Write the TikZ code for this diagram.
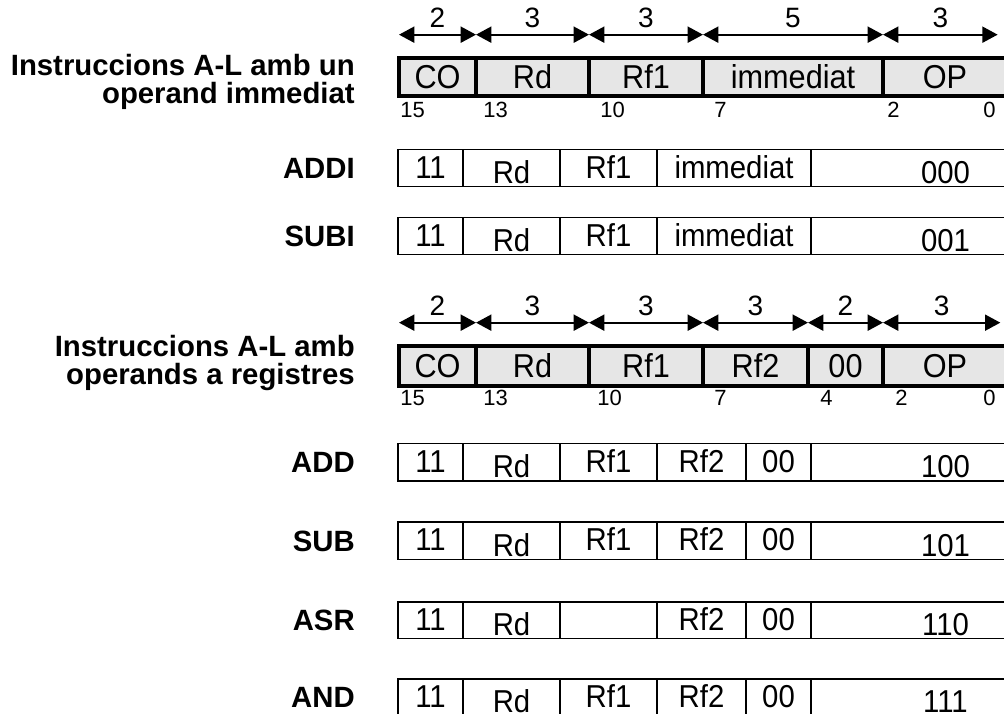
\documentclass[tikz,border=0pt]{standalone}
\usepackage{fontspec}
\usepackage{graphicx}
\setmainfont{Liberation Sans}
\usetikzlibrary{arrows.meta}
\definecolor{hdrfill}{RGB}{230,230,230}
% one field of an instruction word: name, style, x-left, x-right, y-top, y-bottom, text
\newcommand{\fld}[7]{\node[#2, minimum width={(#4-#3)*0.75pt}, minimum height={(#6-#5)*0.75pt}] (#1) at (#3,#5) {\scalebox{1}[1.08]{#7}};}
% field text set a little lower than the rest
\newcommand{\low}[1]{\raisebox{-3.75pt}{#1}}
\begin{document}
\begin{tikzpicture}[x=0.75pt, y=-0.75pt,
  cell/.style={draw, anchor=north west, inner sep=0pt, outer sep=0pt, text depth=0pt},
  hdrcell/.style={cell, line width=2.5pt, fill=hdrfill, text height=17pt, font=\fontsize{23}{27}\selectfont},
  rowcell/.style={cell, line width=1.3pt, fill=white, text height=15pt, font=\fontsize{22}{26}\selectfont},
  rowlabel/.style={anchor=east, inner sep=0pt, font=\bfseries\fontsize{22}{26}\selectfont},
  grouplabel/.style={anchor=east, inner sep=0pt, align=right, font=\bfseries\fontsize{22}{20.5}\selectfont},
  bitno/.style={anchor=north west, inner sep=0pt, font=\fontsize{16.5}{19}\selectfont},
  widthdim/.style={line width=1.5pt, {Triangle[length=11.5pt,width=12pt]}-{Triangle[length=11.5pt,width=12pt]}},
  dimno/.style={midway, above=4.5pt, inner sep=0pt, font=\fontsize{21}{25}\selectfont}
]
\useasboundingbox (0,0) rectangle (1004,714);

% ---------- instructions with an immediate operand ----------
\node[grouplabel] (g1) at (355,82) {Instruccions A-L amb un\\operand immediat};

\fld{h1co}{hdrcell}{399}{476}{58}{96}{CO}
\fld{h1rd}{hdrcell}{476}{589}{58}{96}{Rd}
\fld{h1rf}{hdrcell}{589}{703}{58}{96}{Rf1}
\fld{h1im}{hdrcell}{703}{883}{58}{96}{immediat}
\fld{h1op}{hdrcell}{883}{1007}{58}{96}{OP}

\draw[widthdim] ([yshift=17.5pt]h1co.north west) -- ([yshift=17.5pt]h1co.north east) node[dimno] {2};
\draw[widthdim] ([yshift=17.5pt]h1rd.north west) -- ([yshift=17.5pt]h1rd.north east) node[dimno] {3};
\draw[widthdim] ([yshift=17.5pt]h1rf.north west) -- ([yshift=17.5pt]h1rf.north east) node[dimno] {3};
\draw[widthdim] ([yshift=17.5pt]h1im.north west) -- ([yshift=17.5pt]h1im.north east) node[dimno] {5};
\draw[widthdim] ([yshift=17.5pt]h1op.north west) -- ([yshift=17.5pt,xshift=-7pt]h1op.north east) node[dimno] {3};

\node[bitno] (b1p) at (400,102) {15};
\node[bitno] (b1q) at (483,102) {13};
\node[bitno] (b1r) at (600,102) {10};
\node[bitno] (b1s) at (714,102) {7};
\node[bitno] (b1t) at (887,102) {2};
\node[bitno] (b1u) at (983,102) {0};

\node[rowlabel] (addi) at (355,168) {ADDI};
\fld{ai1}{rowcell}{398}{463}{149.5}{186.5}{11}
\fld{ai2}{rowcell}{463}{560}{149.5}{186.5}{\low{Rd}}
\fld{ai3}{rowcell}{560}{657}{149.5}{186.5}{Rf1}
\fld{ai4}{rowcell}{657}{811}{149.5}{186.5}{immediat}
\fld{ai5}{rowcell}{811}{1080}{149.5}{186.5}{\low{000}}

\node[rowlabel] (subi) at (355,236) {SUBI};
\fld{si1}{rowcell}{398}{463}{217.5}{254.5}{11}
\fld{si2}{rowcell}{463}{560}{217.5}{254.5}{\low{Rd}}
\fld{si3}{rowcell}{560}{657}{217.5}{254.5}{Rf1}
\fld{si4}{rowcell}{657}{811}{217.5}{254.5}{immediat}
\fld{si5}{rowcell}{811}{1080}{217.5}{254.5}{\low{001}}

% ---------- instructions with register operands ----------
\node[grouplabel] (g2) at (355,363) {Instruccions A-L amb\\operands a registres};

\fld{h2co}{hdrcell}{399}{476}{346}{386}{CO}
\fld{h2rd}{hdrcell}{476}{589}{346}{386}{Rd}
\fld{h2rf}{hdrcell}{589}{703}{346}{386}{Rf1}
\fld{h2rg}{hdrcell}{703}{808}{346}{386}{Rf2}
\fld{h2zz}{hdrcell}{808}{883}{346}{386}{00}
\fld{h2op}{hdrcell}{883}{1007}{346}{386}{OP}

\draw[widthdim] ([yshift=17.5pt]h2co.north west) -- ([yshift=17.5pt]h2co.north east) node[dimno] {2};
\draw[widthdim] ([yshift=17.5pt]h2rd.north west) -- ([yshift=17.5pt]h2rd.north east) node[dimno] {3};
\draw[widthdim] ([yshift=17.5pt]h2rf.north west) -- ([yshift=17.5pt]h2rf.north east) node[dimno] {3};
\draw[widthdim] ([yshift=17.5pt]h2rg.north west) -- ([yshift=17.5pt]h2rg.north east) node[dimno] {3};
\draw[widthdim] ([yshift=17.5pt]h2zz.north west) -- ([yshift=17.5pt]h2zz.north east) node[dimno] {2};
\draw[widthdim] ([yshift=17.5pt]h2op.north west) -- ([yshift=17.5pt,xshift=-5pt]h2op.north east) node[dimno] {3};

\node[bitno] (b2p) at (400,390) {15};
\node[bitno] (b2q) at (483,390) {13};
\node[bitno] (b2r) at (597,390) {10};
\node[bitno] (b2s) at (714,390) {7};
\node[bitno] (b2t) at (820,390) {4};
\node[bitno] (b2u) at (895,390) {2};
\node[bitno] (b2v) at (983,390) {0};

\node[rowlabel] (add) at (355,462) {ADD};
\fld{ad1}{rowcell}{398}{463}{443.5}{481}{11}
\fld{ad2}{rowcell}{463}{560}{443.5}{481}{\low{Rd}}
\fld{ad3}{rowcell}{560}{657}{443.5}{481}{Rf1}
\fld{ad4}{rowcell}{657}{746}{443.5}{481}{Rf2}
\fld{ad5}{rowcell}{746}{811}{443.5}{481}{00}
\fld{ad6}{rowcell}{811}{1080}{443.5}{481}{\low{100}}

\node[rowlabel] (sub) at (355,541) {SUB};
\fld{sb1}{rowcell}{398}{463}{522}{559.5}{11}
\fld{sb2}{rowcell}{463}{560}{522}{559.5}{\low{Rd}}
\fld{sb3}{rowcell}{560}{657}{522}{559.5}{Rf1}
\fld{sb4}{rowcell}{657}{746}{522}{559.5}{Rf2}
\fld{sb5}{rowcell}{746}{811}{522}{559.5}{00}
\fld{sb6}{rowcell}{811}{1080}{522}{559.5}{\low{101}}

\node[rowlabel] (asr) at (355,620) {ASR};
\fld{ar1}{rowcell}{398}{463}{602}{638.5}{11}
\fld{ar2}{rowcell}{463}{560}{602}{638.5}{\low{Rd}}
\fld{ar3}{rowcell}{560}{657}{602}{638.5}{}
\fld{ar4}{rowcell}{657}{746}{602}{638.5}{Rf2}
\fld{ar5}{rowcell}{746}{811}{602}{638.5}{00}
\fld{ar6}{rowcell}{811}{1080}{602}{638.5}{\low{110}}

\node[rowlabel] (and) at (355,697.5) {AND};
\fld{an1}{rowcell}{398}{463}{679}{716}{11}
\fld{an2}{rowcell}{463}{560}{679}{716}{\low{Rd}}
\fld{an3}{rowcell}{560}{657}{679}{716}{Rf1}
\fld{an4}{rowcell}{657}{746}{679}{716}{Rf2}
\fld{an5}{rowcell}{746}{811}{679}{716}{00}
\fld{an6}{rowcell}{811}{1080}{679}{716}{\low{111}}
\end{tikzpicture}
\end{document}
